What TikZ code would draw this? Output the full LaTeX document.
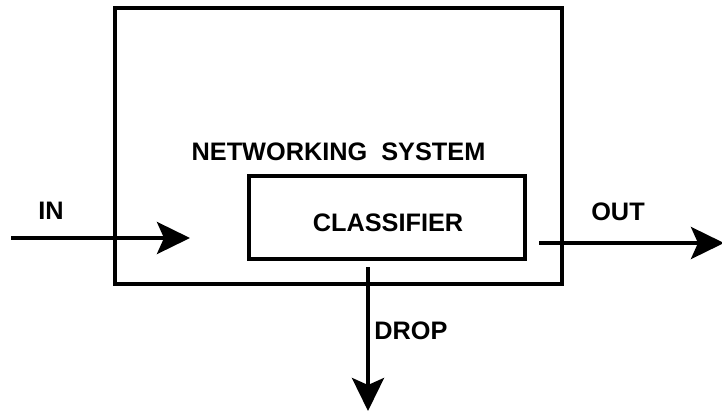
\documentclass[tikz,border=0pt]{standalone}
\usepackage{fontspec}
\setmainfont{Liberation Sans}
\usetikzlibrary{arrows.meta}
\begin{document}
\begin{tikzpicture}[x=1pt,y=-1pt,
  frame/.style={draw=black, line width=4pt, rectangle, inner sep=0pt},
  lbl/.style={font=\bfseries\fontsize{25.3}{29}\selectfont, inner sep=0pt},
  flow/.style={line width=4pt, -{Stealth[length=33pt, width=32pt, inset=7pt]}}]
  \useasboundingbox (0,0) rectangle (722,415);
  % boxes
  \node[frame, minimum width=447pt, minimum height=276pt] (sys) at (338.5,146) {};
  \node[frame, minimum width=276pt, minimum height=83pt] (cls) at (387,217.5) {};
  % texts
  \node[lbl] (systxt) at (338.5,152) {NETWORKING\ \ SYSTEM};
  \node[lbl] (clstxt) at (388,223) {CLASSIFIER};
  \node[lbl] (intxt) at (51,211) {IN};
  \node[lbl] (outtxt) at (618,212) {OUT};
  \node[lbl] (droptxt) at (411,331) {DROP};
  % connector ends
  \coordinate (inA) at (11,238);
  \coordinate (inB) at (190,238);
  \coordinate (outA) at ([xshift=12pt]cls.east |- 0,243);
  \coordinate (outB) at (724,243);
  \coordinate (dropA) at (368,267);
  \coordinate (dropB) at (368,411);
  % flows
  \draw[flow] (inA) -- (inB);
  \draw[flow] (outA) -- (outB);
  \draw[flow] (dropA) -- (dropB);
\end{tikzpicture}
\end{document}
